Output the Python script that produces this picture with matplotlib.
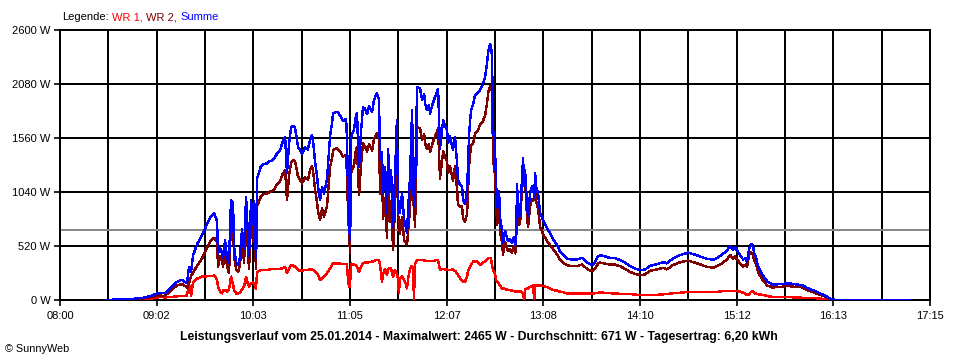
import numpy as np
import matplotlib
matplotlib.use('Agg')
import matplotlib.pyplot as plt
from matplotlib.offsetbox import TextArea, HPacker, AnchoredOffsetbox

plt.rcParams['font.family'] = ['Liberation Sans', 'DejaVu Sans']

# minutes after 08:00, power of the two inverters in W
minutes = [
    29.3, 38.3, 44.7, 53.0, 57.4, 60.6, 63.8, 67.0, 70.2, 74.6, 77.8, 81.0, 82.3, 83.6, 84.9, 87.4,
    90.6, 93.1, 95.7, 98.3, 100.2, 100.8, 102.1, 103.4, 104.0, 105.3, 106.5, 107.8, 109.1, 110.4,
    111.0, 112.3, 113.6, 114.8, 116.1, 117.4, 118.7, 119.3, 120.6, 121.9, 123.1, 123.8, 125.0,
    125.7, 127.0, 128.2, 130.2, 132.1, 134.0, 135.9, 138.4, 140.4, 141.6, 143.6, 144.8, 146.1,
    147.4, 148.7, 149.9, 151.2, 151.8, 153.1, 154.4, 156.3, 158.2, 159.5, 160.8, 161.4, 162.7,
    164.0, 164.6, 165.9, 167.2, 168.4, 170.3, 171.6, 172.3, 173.5, 174.2, 176.7, 178.6, 180.6,
    182.5, 183.1, 183.7, 184.4, 185.0, 185.6, 187.6, 188.8, 189.5, 190.1, 190.8, 192.0, 193.3,
    194.6, 195.9, 197.1, 199.1, 200.3, 201.6, 202.2, 203.5, 204.2, 205.4, 206.1, 207.4, 208.6,
    209.3, 210.5, 211.2, 212.5, 213.7, 214.9, 215.6, 216.2, 216.8, 218.2, 219.5, 220.7, 221.4,
    222.0, 223.3, 224.6, 225.2, 225.8, 226.5, 227.8, 229.7, 231.0, 232.3, 232.9, 234.1, 235.4,
    236.1, 237.3, 238.6, 240.5, 241.2, 242.4, 243.7, 244.4, 245.6, 246.9, 247.5, 248.8, 250.7,
    252.0, 253.3, 253.9, 255.2, 256.5, 257.1, 258.4, 259.7, 260.3, 261.0, 262.2, 263.5, 264.8,
    266.1, 268.0, 269.9, 271.2, 272.4, 273.1, 274.3, 275.0, 275.6, 276.3, 277.5, 278.2, 278.8,
    280.1, 280.7, 282.0, 282.6, 283.9, 285.2, 285.8, 287.1, 288.4, 289.6, 290.3, 290.9, 291.6,
    292.2, 292.8, 293.5, 294.1, 295.4, 296.1, 296.7, 298.0, 298.6, 299.9, 301.2, 301.8, 302.5,
    303.1, 303.8, 305.0, 306.3, 308.2, 310.7, 312.6, 314.5, 317.1, 319.0, 320.9, 323.5, 326.7,
    329.8, 333.0, 336.2, 339.4, 341.3, 343.2, 344.5, 347.7, 350.9, 354.1, 357.3, 360.5, 363.7,
    366.9, 370.0, 373.2, 376.4, 380.9, 384.7, 387.3, 391.1, 395.6, 400.7, 403.9, 408.3, 412.8,
    416.6, 419.8, 423.0, 425.5, 427.5, 429.4, 430.7, 431.9, 433.8, 435.8, 437.0, 438.3, 439.6,
    440.9, 442.1, 442.8, 444.0, 445.3, 447.9, 451.1, 454.3, 457.4, 460.6, 463.8, 467.0, 470.2,
    473.4, 476.6, 480.4, 484.9, 489.3, 491.3, 493.2, 542.3,
]
wr1 = [
    0, 3, 3, 8, 12, 20, 28, 25, 28, 35, 40, 42, 160, 40, 170, 205,
    225, 228, 230, 235, 200, 128, 80, 64, 90, 96, 80, 96, 225, 150,
    96, 64, 64, 70, 100, 128, 225, 180, 128, 160, 170, 150, 110,
    270, 280, 289, 289, 289, 295, 297, 298, 300, 305, 320, 257, 300,
    337, 330, 320, 300, 290, 282, 282, 290, 290, 295, 295, 290, 270,
    250, 241, 193, 210, 225, 260, 290, 300, 340, 353, 350, 350, 345,
    345, 340, 200, 128, 128, 350, 340, 330, 320, 290, 273, 320, 350,
    360, 360, 365, 369, 375, 385, 385, 380, 330, 176, 250, 300, 241,
    300, 310, 300, 225, 290, 257, 200, 64, 200, 230, 193, 150, 112,
    200, 305, 330, 300, 10, 353, 385, 385, 385, 380, 380, 375, 375,
    373, 375, 378, 385, 385, 289, 300, 300, 295, 295, 290, 289, 295,
    280, 257, 240, 209, 190, 180, 176, 230, 280, 300, 340, 369, 370,
    369, 337, 360, 370, 385, 400, 405, 395, 330, 289, 250, 193, 180,
    150, 140, 112, 112, 105, 100, 96, 96, 90, 85, 80, 80, 80,
    80, 80, 85, 85, 64, 0, 100, 112, 112, 128, 130, 144, 0,
    144, 140, 140, 140, 135, 125, 112, 96, 90, 80, 75, 64, 64,
    64, 64, 62, 60, 65, 70, 71, 70, 65, 62, 60, 58, 58,
    52, 48, 48, 48, 50, 55, 58, 65, 70, 77, 77, 77, 77,
    77, 80, 85, 87, 87, 87, 85, 85, 80, 70, 60, 50, 55,
    80, 80, 70, 60, 55, 50, 39, 30, 26, 26, 26, 26, 24,
    22, 20, 19, 14, 6, 2, 0, 0,
]
wr2 = [
    0, 3, 5, 14, 25, 35, 42, 40, 85, 140, 154, 120, 160, 230, 260, 330,
    400, 480, 560, 600, 560, 320, 420, 390, 320, 480, 330, 260, 740, 780,
    420, 300, 270, 340, 580, 360, 770, 620, 300, 800, 560, 800, 300,
    900, 950, 1000, 1020, 1027, 1043, 1050, 1110, 1140, 1200, 1250, 963, 1200,
    1320, 1348, 1340, 1240, 1187, 1160, 1123, 1180, 1160, 1250, 1290, 1250, 1060,
    940, 850, 770, 880, 800, 900, 1150, 1284, 1360, 1444, 1463, 1430, 1380,
    1400, 1200, 867, 640, 450, 1220, 1300, 1450, 1476, 1220, 1010, 1300, 1508,
    1480, 1430, 1500, 1440, 1550, 1590, 1605, 1550, 1020, 1250, 780, 980, 594,
    1150, 750, 950, 480, 900, 1476, 830, 770, 640, 800, 577, 546, 530,
    650, 880, 1500, 950, 900, 700, 1669, 1650, 1540, 1600, 1510, 1455, 1500,
    1424, 1490, 1550, 1620, 1650, 1170, 1340, 1430, 1380, 1340, 1220, 1285, 1150,
    1290, 1060, 915, 900, 900, 783, 754, 830, 1036, 1300, 1490, 1510, 1605,
    1621, 1685, 1727, 1780, 1894, 1990, 2060, 2045, 2010, 1350, 1200, 930, 720,
    900, 650, 560, 434, 560, 500, 470, 490, 456, 520, 449, 470, 1040,
    750, 720, 738, 900, 1300, 1100, 1150, 780, 700, 910, 970, 950, 980,
    1076, 950, 880, 700, 635, 565, 530, 490, 440, 385, 358, 335, 325,
    325, 343, 300, 277, 300, 350, 360, 350, 340, 340, 325, 300, 270,
    250, 241, 245, 280, 295, 310, 295, 337, 363, 379, 365, 343, 320,
    311, 330, 360, 391, 433, 400, 420, 390, 353, 321, 340, 321, 440,
    460, 440, 380, 350, 270, 200, 140, 120, 125, 128, 135, 130, 125,
    122, 96, 75, 50, 26, 11, 3, 0,
]
average = 671
y_ticks = [0, 520, 1040, 1560, 2080, 2600]

t = 480 + np.array(minutes)
p1 = np.array(wr1)
p2 = np.array(wr2)
total = p1 + p2

fig = plt.figure(figsize=(9.6, 3.6), dpi=100)
ax = fig.add_axes([60/960, 60/360, 870/960, 270/360])

lw = 1.0
ax.axhline(average, color='#888888', lw=1.2, antialiased=False, zorder=1)
ax.plot(t, p1, color='#ff0000', lw=lw, antialiased=False, zorder=3)
ax.plot(t, p2, color='#800000', lw=lw, antialiased=False, zorder=4)
ax.plot(t, total, color='#0000ff', lw=lw, antialiased=False, zorder=5)

ax.set_xlim(480, 1035)
ax.set_ylim(0, 2600)
major = [480 + k * 555 / 9 for k in range(10)]
minor = [480 + k * 555 / 18 for k in range(1, 18, 2)]
ax.set_xticks(major)
ax.set_xticks(minor, minor=True)
ax.set_xticklabels([f"{int(round(m)) // 60:02d}:{int(round(m)) % 60:02d}" for m in major])
ax.set_yticks(y_ticks)
ax.set_yticklabels([f"{v} W" for v in y_ticks])
ax.grid(True, which='both', color='black', lw=1.2, antialiased=False, zorder=0)
ax.set_axisbelow(True)
ax.tick_params(axis='x', which='major', length=4, width=1.2, pad=4, labelsize=8)
ax.tick_params(axis='x', which='minor', length=0)
ax.tick_params(axis='y', length=4, width=1.2, pad=3, labelsize=8)
for s in ax.spines.values():
    s.set_color('black')
    s.set_linewidth(1.2)
    s.set_antialiased(False)

parts = [("Legende:", "black"), ("WR 1,", "#ff0000"), ("WR 2,", "#800000"), ("Summe", "#0000ff")]
boxes = [TextArea(s, textprops=dict(color=c, size=8)) for s, c in parts]
pack = HPacker(children=boxes, align="baseline", pad=0, sep=2.5)
legend_box = AnchoredOffsetbox(loc='lower left', child=pack, pad=0, borderpad=0, frameon=False,
                               bbox_to_anchor=(62/960, 1 - 22/360), bbox_transform=fig.transFigure)
fig.add_artist(legend_box)

fig.text(479/960, 1 - 337/360,
         "Leistungsverlauf vom 25.01.2014 - Maximalwert: 2465 W - Durchschnitt: 671 W - Tagesertrag: 6,20 kWh",
         ha='center', va='center', fontsize=8.8, fontweight='bold')
fig.text(5/960, 1 - 349/360, "© SunnyWeb", ha='left', va='center', fontsize=7.8)

fig.savefig("out.png", dpi=100, facecolor='white')
